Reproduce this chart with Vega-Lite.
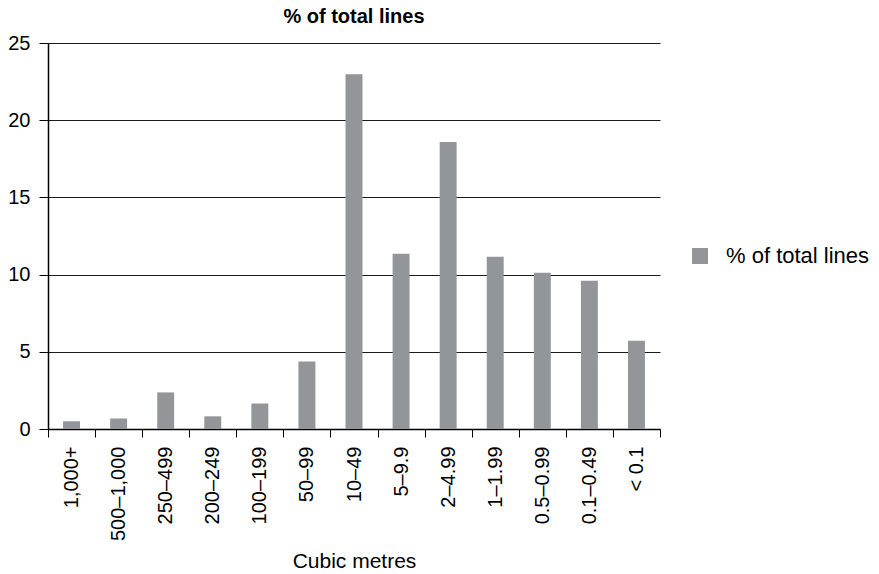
{
  "$schema": "https://vega.github.io/schema/vega-lite/v6.json",
  "autosize": "none",
  "width": 612,
  "height": 386,
  "padding": {"left": 48, "top": 43, "right": 219, "bottom": 145},
  "background": "white",
  "config": {
    "font": "Liberation Sans",
    "view": {"stroke": null}
  },
  "title": {
    "text": "% of total lines",
    "fontSize": 20,
    "fontWeight": "bold",
    "font": "Liberation Sans",
    "color": "#000000",
    "anchor": "middle",
    "offset": 6
  },
  "data": {
    "values": [
      {"category": "1,000+", "value": 0.5},
      {"category": "500–1,000", "value": 0.68},
      {"category": "250–499", "value": 2.37},
      {"category": "200–249", "value": 0.82},
      {"category": "100–199", "value": 1.65},
      {"category": "50–99", "value": 4.37},
      {"category": "10–49", "value": 22.98},
      {"category": "5–9.9", "value": 11.35},
      {"category": "2–4.99", "value": 18.58},
      {"category": "1–1.99", "value": 11.15},
      {"category": "0.5–0.99", "value": 10.12},
      {"category": "0.1–0.49", "value": 9.6},
      {"category": "< 0.1", "value": 5.72}
    ]
  },
  "mark": {"type": "bar", "width": {"band": 0.36}},
  "encoding": {
    "x": {
      "field": "category",
      "type": "nominal",
      "sort": null,
      "scale": {"paddingInner": 0, "paddingOuter": 0},
      "axis": {
        "title": "Cubic metres",
        "titleFontSize": 21,
        "titleFontWeight": "normal",
        "titleColor": "#000000",
        "titlePadding": 10,
        "labelAngle": -90,
        "labelFontSize": 20,
        "labelColor": "#000000",
        "labelPadding": 9,
        "tickBand": "extent",
        "tickSize": 8,
        "tickColor": "#000000",
        "domainColor": "#000000",
        "domainWidth": 1.5,
        "grid": false
      }
    },
    "y": {
      "field": "value",
      "type": "quantitative",
      "scale": {"domain": [0, 25], "nice": false},
      "axis": {
        "title": null,
        "values": [0, 5, 10, 15, 20, 25],
        "labelFontSize": 20,
        "labelColor": "#000000",
        "labelPadding": 9,
        "tickSize": 9,
        "tickColor": "#000000",
        "domainColor": "#000000",
        "domainWidth": 1.5,
        "grid": true,
        "gridColor": "#1a1a1a",
        "gridWidth": 1
      }
    },
    "color": {
      "datum": "% of total lines",
      "scale": {"range": ["#939598"]},
      "legend": {
        "title": null,
        "orient": "none",
        "legendX": 641,
        "legendY": 202,
        "symbolType": "square",
        "symbolSize": 256,
        "symbolStrokeWidth": 0,
        "labelFontSize": 22,
        "labelColor": "#000000",
        "labelOffset": 15
      }
    }
  }
}
